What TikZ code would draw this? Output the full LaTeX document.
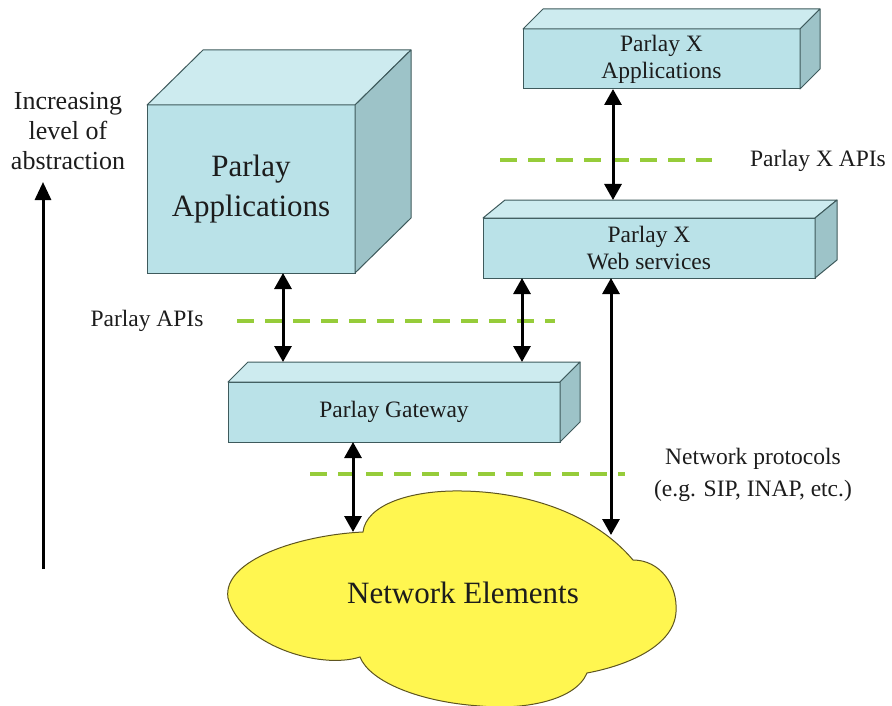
\documentclass[tikz,border=0pt]{standalone}
\usepackage{fontspec}
\setmainfont{LiberationSerif}[Extension=.ttf, UprightFont=*-Regular, BoldFont=*-Bold, ItalicFont=*-Italic, BoldItalicFont=*-BoldItalic]
\usetikzlibrary{arrows.meta,calc}
\definecolor{frontc}{HTML}{BAE2E8}
\definecolor{topc}{HTML}{CDEBEF}
\definecolor{sidec}{HTML}{9DC3C8}
\definecolor{edgec}{HTML}{3E5A5C}
\definecolor{dashc}{HTML}{96CC3A}
\definecolor{cloudc}{HTML}{FFF650}
\definecolor{cloude}{HTML}{5E5520}
\definecolor{txt}{HTML}{1C1C1C}
\tikzset{
  front/.style={draw=edgec, fill=frontc, line width=1pt, inner sep=0pt, outer sep=0pt, align=center, text=txt},
  topface/.style={draw=edgec, fill=topc, line width=1pt, line join=round},
  sideface/.style={draw=edgec, fill=sidec, line width=1pt, line join=round},
  biarrow/.style={line width=3pt, {Triangle[length=16pt,width=17pt]}-{Triangle[length=16pt,width=17pt]}},
  uparrow/.style={line width=3pt, -{Triangle[length=18pt,width=16pt]}},
  apiline/.style={dashc, line width=4pt, dash pattern=on 17pt off 11pt},
  lbl/.style={text=txt, align=center, inner sep=0pt},
  bigfont/.style={font=\rmfamily\fontsize{31}{40}\selectfont},
  smallfont/.style={font=\rmfamily\fontsize{23.5}{27}\selectfont},
  cloudshape/.style={draw=cloude, fill=cloudc, line width=1pt}
}
\begin{document}
\begin{tikzpicture}[x=1pt,y=-1pt]
\useasboundingbox (0,0) rectangle (892,706);

% cloud
\draw[cloudshape] (363,532) .. controls (366,505) and (410,490) .. (462,491)
  .. controls (530,492) and (595,515) .. (633,560)
  .. controls (660,560) and (678,585) .. (676,612)
  .. controls (674,645) and (630,665) .. (587,673)
  .. controls (575,702) and (520,710) .. (480,706)
  .. controls (420,702) and (370,682) .. (360,657)
  .. controls (320,670) and (240,645) .. (228,598)
  .. controls (222,560) and (300,535) .. (363,532) -- cycle;
\node[lbl, bigfont] (ne) at (463,593) {Network Elements};
\coordinate (c1) at (353,532);
\coordinate (c2) at (611,535);

% Parlay Applications cube
\node[front, bigfont, minimum width=208pt, minimum height=168pt] (pa) at (251,189) {Parlay\\Applications};
\draw[topface] (pa.north west) -- ++(56,-55) -- ++(208,0) -- (pa.north east) -- cycle;
\draw[sideface] (pa.north east) -- ++(56,-55) -- ++(0,168) -- (pa.south east) -- cycle;

% Parlay X Applications
\node[front, smallfont, minimum width=277pt, minimum height=60pt] (pxa) at (661.5,59) {Parlay X\\Applications};
\draw[topface] (pxa.north west) -- ++(20,-20) -- ++(277,0) -- (pxa.north east) -- cycle;
\draw[sideface] (pxa.north east) -- ++(20,-20) -- ++(0,60) -- (pxa.south east) -- cycle;

% Parlay X Web services
\node[front, smallfont, minimum width=332pt, minimum height=60pt] (pxw) at (649,248) {Parlay X\\Web services};
\draw[topface] (pxw.north west) -- ++(22,-18) -- ++(332,0) -- (pxw.north east) -- cycle;
\draw[sideface] (pxw.north east) -- ++(22,-18) -- ++(0,60) -- (pxw.south east) -- cycle;

% Parlay Gateway
\node[front, smallfont, minimum width=332pt, minimum height=60pt] (pg) at (394,412) {Parlay Gateway};
\draw[topface] (pg.north west) -- ++(20,-20) -- ++(332,0) -- (pg.north east) -- cycle;
\draw[sideface] (pg.north east) -- ++(20,-20) -- ++(0,60) -- (pg.south east) -- cycle;

% dashed API lines
\coordinate (d1a) at (500,160); \coordinate (d1b) at (712,160);
\coordinate (d2a) at (237,321); \coordinate (d2b) at (555,321);
\coordinate (d3a) at (310,474); \coordinate (d3b) at (625,474);
\draw[apiline] (d1a) -- (d1b);
\draw[apiline] (d2a) -- (d2b);
\draw[apiline] (d3a) -- (d3b);

% labels
\node[lbl, smallfont] (pxapi) at (818,161) {Parlay X APIs};
\node[lbl, smallfont] (papi) at (147,321) {Parlay APIs};
\node[lbl, font=\rmfamily\fontsize{23.5}{32}\selectfont] (np) at (753,475) {Network protocols\\(e.g. SIP, INAP, etc.)};
\node[lbl, font=\rmfamily\fontsize{26}{30}\selectfont] (inc) at (68,131) {Increasing\\level of\\abstraction};

% arrows
\draw[biarrow] ([xshift=32pt]pa.south) -- ([xshift=55pt,yshift=20pt]pg.north west);
\draw[biarrow] ([xshift=39pt]pxw.south west) -- ([xshift=294pt,yshift=20pt]pg.north west);
\draw[biarrow] ([xshift=90pt]pxa.south west) -- ([xshift=130pt,yshift=18pt]pxw.north west);
\draw[biarrow] ([xshift=128pt]pxw.south west) -- (c2);
\draw[biarrow] ([xshift=125pt]pg.south west) -- (c1);
\coordinate (ab1) at (43,569);
\coordinate (ab2) at (43,182);
\draw[uparrow] (ab1) -- (ab2);
\end{tikzpicture}
\end{document}
